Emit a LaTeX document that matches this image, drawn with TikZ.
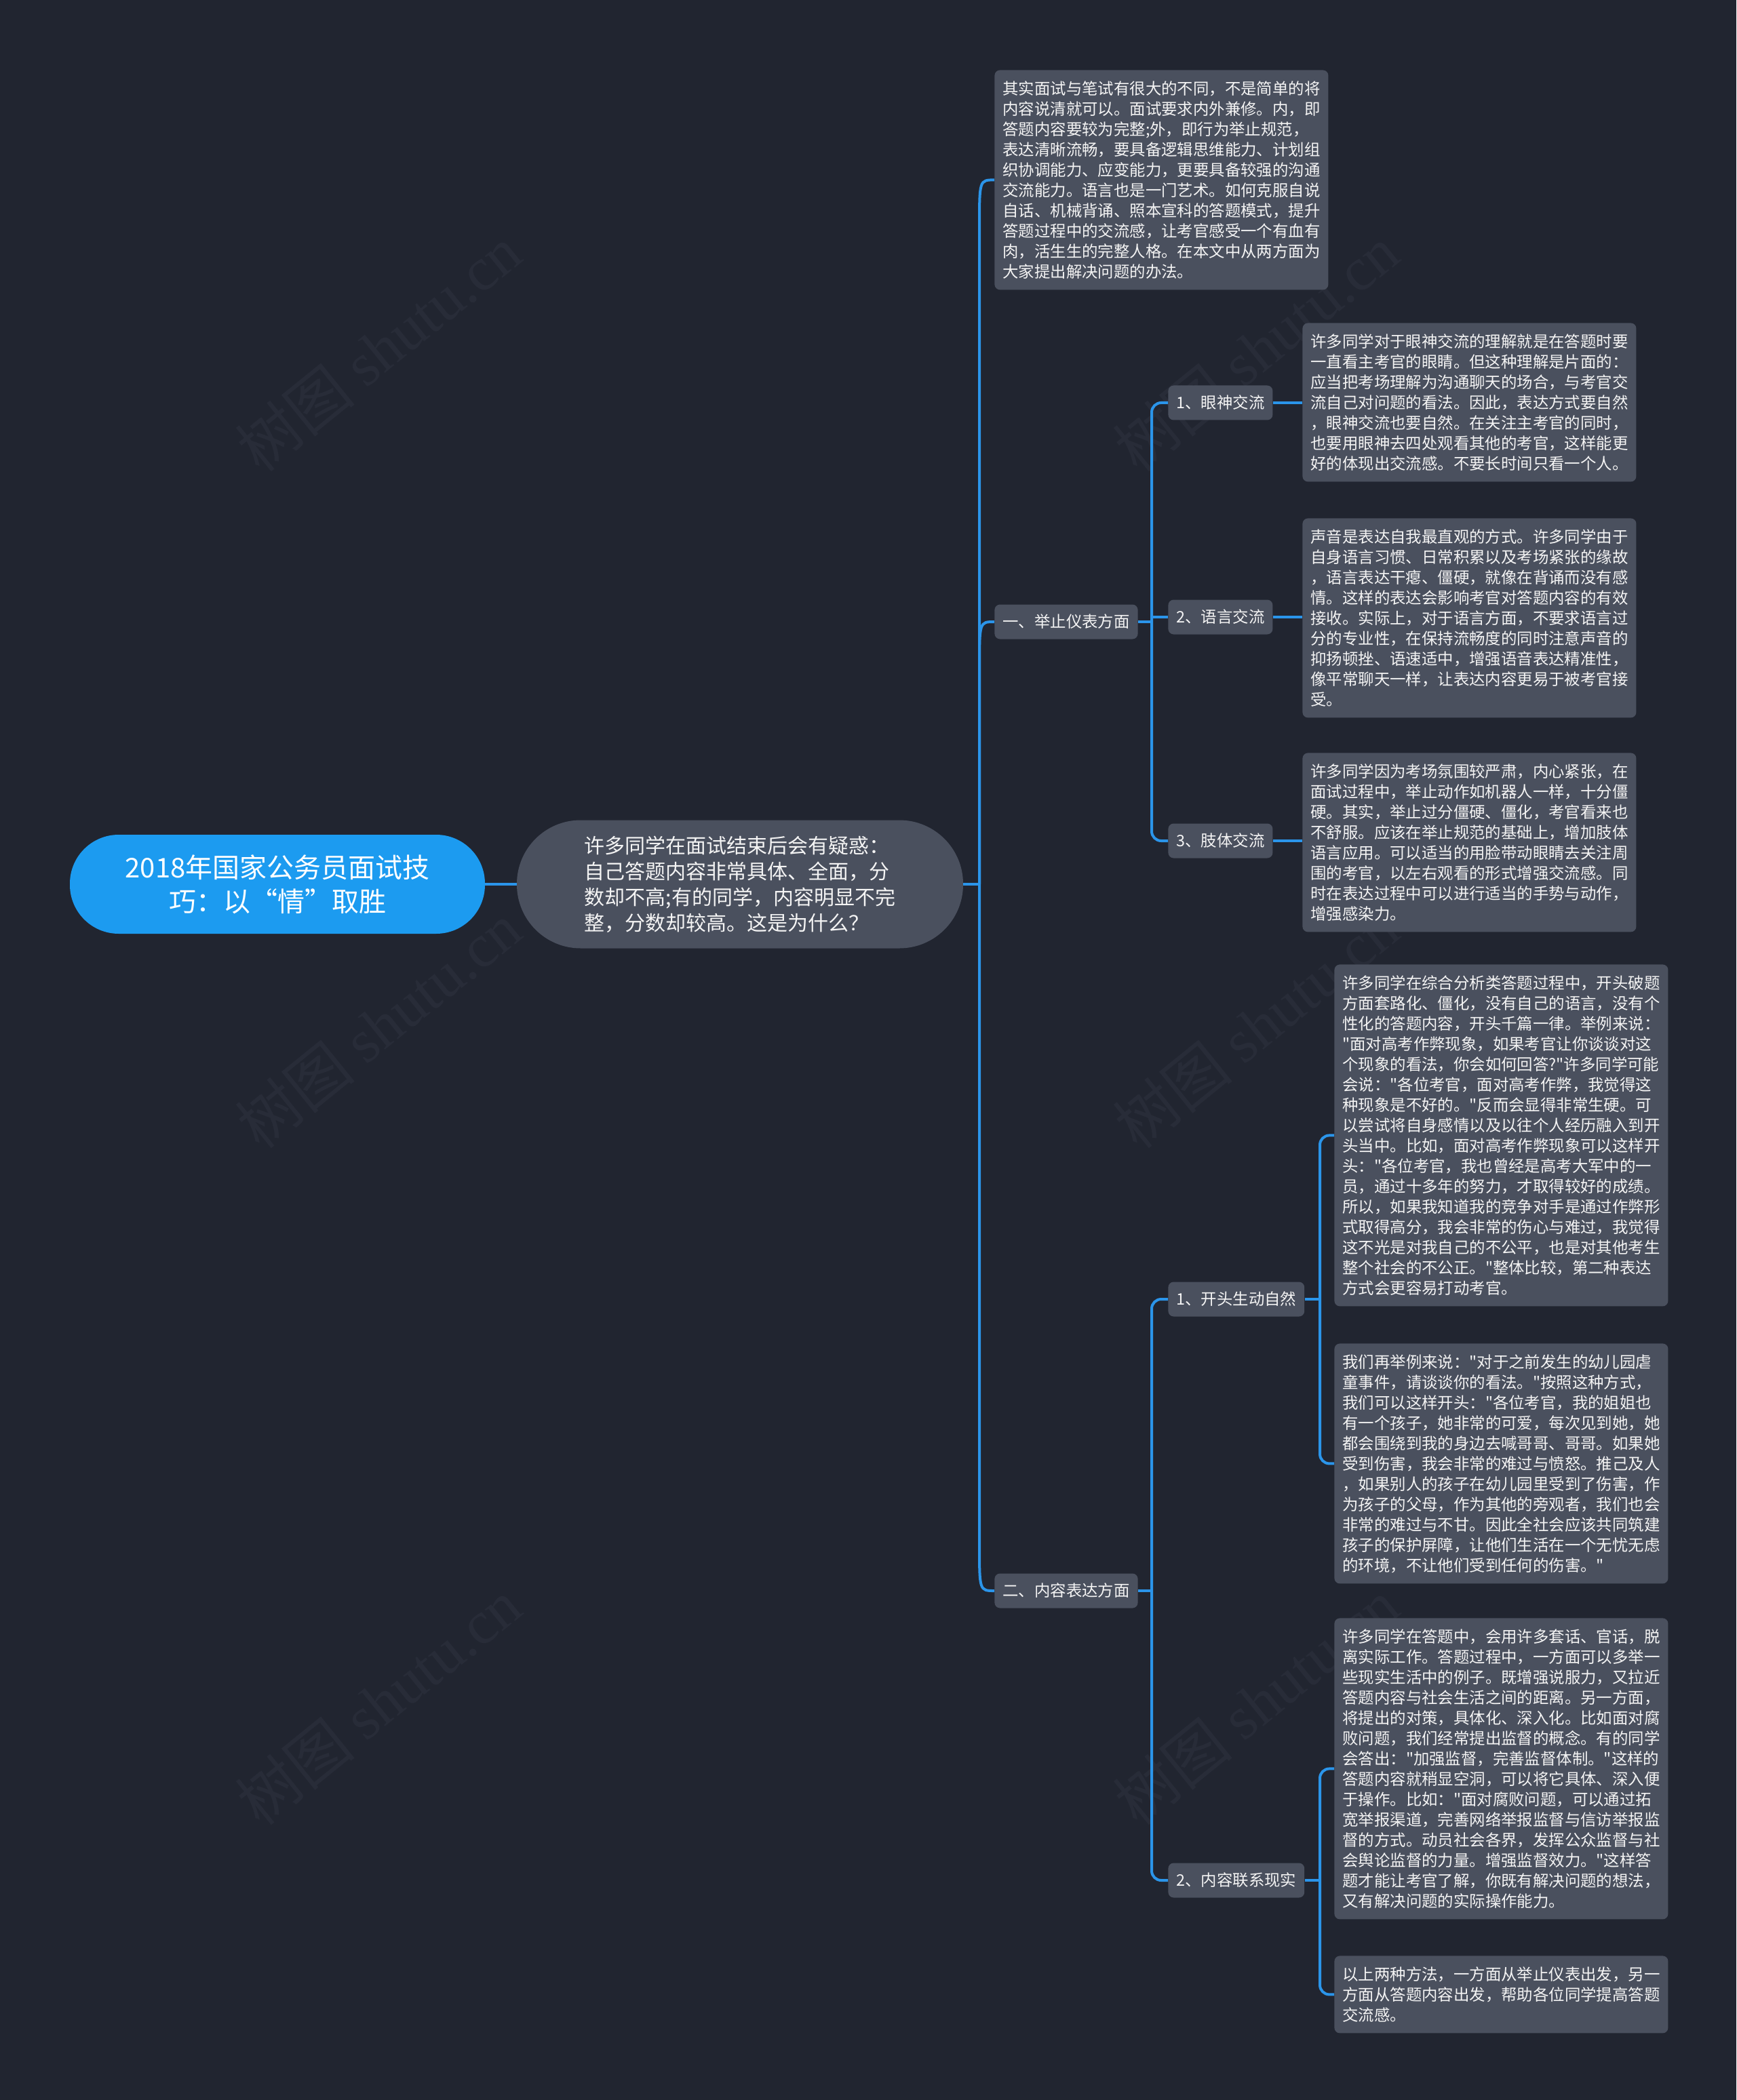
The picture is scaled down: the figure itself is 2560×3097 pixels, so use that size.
\documentclass[tikz,border=0pt]{standalone}
\usepackage{fontspec}
\setmainfont{Noto Sans CJK SC}
\newfontfamily\cjkfam{Noto Sans CJK SC}
\newfontfamily\wmserif{Liberation Serif}
\usetikzlibrary{calc}
\definecolor{bgc}{HTML}{212530}
\definecolor{nodec}{HTML}{4A505E}
\definecolor{linec}{HTML}{2B95EA}
\definecolor{rootc}{HTML}{1C9BF0}
\definecolor{wmc}{HTML}{282C38}
\definecolor{txtc}{HTML}{F4F4F4}
\tikzset{
  conn/.style={draw=linec, line width=2pt},
  textbox/.style={fill=nodec, rounded corners=4pt, text=txtc, font=\cjkfam\fontsize{11.7}{15}\selectfont, align=left, text width=234pt, inner xsep=6pt, inner ysep=2pt, anchor=north west},
  topicbox/.style={fill=nodec, rounded corners=4pt, text=txtc, font=\cjkfam\fontsize{11.7}{14}\selectfont, inner xsep=6pt, inner ysep=0pt, minimum height=25.5pt, anchor=west},
  rootbox/.style={fill=rootc, rounded corners=36pt, minimum width=306pt, minimum height=73pt, align=center, text=white, font=\cjkfam\fontsize{20}{25}\selectfont},
  subbox/.style={fill=nodec, rounded corners=47pt, minimum width=329pt, minimum height=94.5pt, align=left, text=txtc, font=\cjkfam\fontsize{15}{19}\selectfont},
  wmark/.style={text=wmc, rotate=39, font=\cjkfam\fontsize{45}{45}\selectfont}
}
\begin{document}
\begin{tikzpicture}[x=0.5pt,y=-0.5pt]
\fill[bgc] (0,0) rectangle (2560,3097);
\useasboundingbox (0,0) rectangle (2560,3097);

% watermarks
\foreach \wx/\wy [count=\i] in {558/515,1852/515,558/1513,1852/1513,558/2511,1852/2511}{
  \node[wmark] (wm\i) at (\wx,\wy) {树图 {\wmserif shutu.cn}};
}

% root and centre
\node[rootbox] (root) at (409,1304) {2018年国家公务员面试技\\巧：以{\addfontfeature{CharacterWidth=Full}“}情{\addfontfeature{CharacterWidth=Full}”}取胜};
\node[subbox] (sub) at (1091,1304) {许多同学在面试结束后会有疑惑：\\自己答题内容非常具体、全面，分\\数却不高;有的同学，内容明显不完\\整，分数却较高。这是为什么？};

% level 1
\node[textbox, minimum height=162pt] (intro) at (1466,103) {其实面试与笔试有很大的不同，不是简单的将\\内容说清就可以。面试要求内外兼修。内，即\\答题内容要较为完整;外，即行为举止规范，\\表达清晰流畅，要具备逻辑思维能力、计划组\\织协调能力、应变能力，更要具备较强的沟通\\交流能力。语言也是一门艺术。如何克服自说\\自话、机械背诵、照本宣科的答题模式，提升\\答题过程中的交流感，让考官感受一个有血有\\肉，活生生的完整人格。在本文中从两方面为\\大家提出解决问题的办法。};
\node[topicbox] (a1) at (1466,917) {一、举止仪表方面};
\node[topicbox] (a2) at (1466,2346) {二、内容表达方面};

% level 2
\node[topicbox] (b1) at (1722,594) {1、眼神交流};
\node[topicbox] (b2) at (1722,910) {2、语言交流};
\node[topicbox] (b3) at (1722,1240) {3、肢体交流};
\node[topicbox] (b4) at (1722,1916) {1、开头生动自然};
\node[topicbox] (b5) at (1722,2773) {2、内容联系现实};

% level 3
\node[textbox, minimum height=117pt] (box1) at (1920,476) {许多同学对于眼神交流的理解就是在答题时要\\一直看主考官的眼睛。但这种理解是片面的：\\应当把考场理解为沟通聊天的场合，与考官交\\流自己对问题的看法。因此，表达方式要自然\\，眼神交流也要自然。在关注主考官的同时，\\也要用眼神去四处观看其他的考官，这样能更\\好的体现出交流感。不要长时间只看一个人。};
\node[textbox, minimum height=147pt] (box2) at (1920,764) {声音是表达自我最直观的方式。许多同学由于\\自身语言习惯、日常积累以及考场紧张的缘故\\，语言表达干瘪、僵硬，就像在背诵而没有感\\情。这样的表达会影响考官对答题内容的有效\\接收。实际上，对于语言方面，不要求语言过\\分的专业性，在保持流畅度的同时注意声音的\\抑扬顿挫、语速适中，增强语音表达精准性，\\像平常聊天一样，让表达内容更易于被考官接\\受。};
\node[textbox, minimum height=132pt] (box3) at (1920,1110) {许多同学因为考场氛围较严肃，内心紧张，在\\面试过程中，举止动作如机器人一样，十分僵\\硬。其实，举止过分僵硬、僵化，考官看来也\\不舒服。应该在举止规范的基础上，增加肢体\\语言应用。可以适当的用脸带动眼睛去关注周\\围的考官，以左右观看的形式增强交流感。同\\时在表达过程中可以进行适当的手势与动作，\\增强感染力。};
\node[textbox, minimum height=252pt] (box4) at (1967,1422) {许多同学在综合分析类答题过程中，开头破题\\方面套路化、僵化，没有自己的语言，没有个\\性化的答题内容，开头千篇一律。举例来说：\\"面对高考作弊现象，如果考官让你谈谈对这\\个现象的看法，你会如何回答?"许多同学可能\\会说："各位考官，面对高考作弊，我觉得这\\种现象是不好的。"反而会显得非常生硬。可\\以尝试将自身感情以及以往个人经历融入到开\\头当中。比如，面对高考作弊现象可以这样开\\头："各位考官，我也曾经是高考大军中的一\\员，通过十多年的努力，才取得较好的成绩。\\所以，如果我知道我的竞争对手是通过作弊形\\式取得高分，我会非常的伤心与难过，我觉得\\这不光是对我自己的不公平，也是对其他考生\\整个社会的不公正。"整体比较，第二种表达\\方式会更容易打动考官。};
\node[textbox, minimum height=177pt] (box5) at (1967,1981) {我们再举例来说："对于之前发生的幼儿园虐\\童事件，请谈谈你的看法。"按照这种方式，\\我们可以这样开头："各位考官，我的姐姐也\\有一个孩子，她非常的可爱，每次见到她，她\\都会围绕到我的身边去喊哥哥、哥哥。如果她\\受到伤害，我会非常的难过与愤怒。推己及人\\，如果别人的孩子在幼儿园里受到了伤害，作\\为孩子的父母，作为其他的旁观者，我们也会\\非常的难过与不甘。因此全社会应该共同筑建\\孩子的保护屏障，让他们生活在一个无忧无虑\\的环境，不让他们受到任何的伤害。"};
\node[textbox, minimum height=222pt] (box6) at (1967,2386) {许多同学在答题中，会用许多套话、官话，脱\\离实际工作。答题过程中，一方面可以多举一\\些现实生活中的例子。既增强说服力，又拉近\\答题内容与社会生活之间的距离。另一方面，\\将提出的对策，具体化、深入化。比如面对腐\\败问题，我们经常提出监督的概念。有的同学\\会答出："加强监督，完善监督体制。"这样的\\答题内容就稍显空洞，可以将它具体、深入便\\于操作。比如："面对腐败问题，可以通过拓\\宽举报渠道，完善网络举报监督与信访举报监\\督的方式。动员社会各界，发挥公众监督与社\\会舆论监督的力量。增强监督效力。"这样答\\题才能让考官了解，你既有解决问题的想法，\\又有解决问题的实际操作能力。};
\node[textbox, minimum height=57pt] (box7) at (1967,2884) {以上两种方法，一方面从举止仪表出发，另一\\方面从答题内容出发，帮助各位同学提高答题\\交流感。};

% trunk points
\coordinate (t1) at (1444,1304);
\coordinate (t2) at (1698,917);
\coordinate (t3) at (1698,2346);
\coordinate (t4) at (1946,1916);
\coordinate (t5) at (1946,2773);

% connectors
\draw[conn] (root.east) -- (sub.west);
\draw[conn] (sub.east) -- (t1);
\draw[conn] (t1) -- ($(t1|-intro.west)+(0,70)$) .. controls (t1|-intro.west) .. (intro.west);
\draw[conn] (t1) -- ($(t1|-a1.west)+(0,70)$) .. controls (t1|-a1.west) .. (a1.west);
\draw[conn] (t1) -- ($(t1|-a2.west)+(0,-70)$) .. controls (t1|-a2.west) .. (a2.west);

\draw[conn] (a1.east) -- (t2);
\draw[conn, rounded corners=7pt] (b1.west) -| (t2) |- (b3.west);
\draw[conn] (t2|-b2.west) -- (b2.west);

\draw[conn] (a2.east) -- (t3);
\draw[conn, rounded corners=7pt] (b4.west) -| (t3) |- (b5.west);

\draw[conn] (b1.east) -- (b1.east-|box1.west);
\draw[conn] (b2.east) -- (b2.east-|box2.west);
\draw[conn] (b3.east) -- (b3.east-|box3.west);

\draw[conn] (b4.east) -- (t4);
\draw[conn, rounded corners=7pt] (box4.west) -| (t4) |- (box5.west);
\draw[conn] (b5.east) -- (t5);
\draw[conn, rounded corners=7pt] (box6.west) -| (t5) |- (box7.west);
\end{tikzpicture}
\end{document}
